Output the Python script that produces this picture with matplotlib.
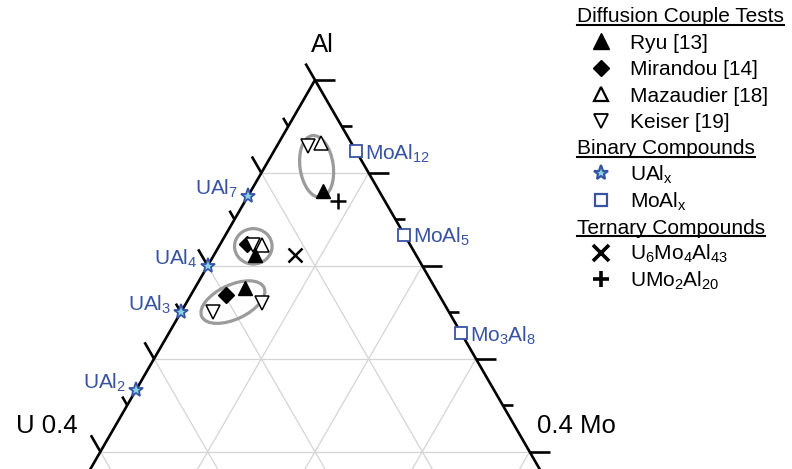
import numpy as np
import matplotlib
matplotlib.use("Agg")
import matplotlib.pyplot as plt
from matplotlib.patches import Ellipse

plt.rcParams["font.family"] = ["Liberation Sans", "DejaVu Sans"]
plt.rcParams["mathtext.default"] = "regular"

# ---- data: atomic fractions (U, Mo, Al) ----
ryu = [(0.052, 0.067, 0.881), (0.150, 0.038, 0.812), (0.177, 0.047, 0.776)]
mirandou = [(0.151, 0.025, 0.824), (0.198, 0.033, 0.769)]
mazaudier = [(0.028, 0.040, 0.932), (0.138, 0.040, 0.822)]
keiser = [(0.042, 0.029, 0.929), (0.147, 0.031, 0.822),
          (0.220, 0.030, 0.750), (0.169, 0.071, 0.760)]

# binary compounds, stoichiometry (U, Al) and (Mo, Al)
ual_stoich = [(1, 7), (1, 4), (1, 3), (1, 2)]
ual_labels = ["UAl$_7$", "UAl$_4$", "UAl$_3$", "UAl$_2$"]
moal_stoich = [(1, 12), (1, 5), (3, 8)]
moal_labels = ["MoAl$_{12}$", "MoAl$_5$", "Mo$_3$Al$_8$"]

# ternary compounds, stoichiometry (U, Mo, Al)
ternary_stoich = [(6, 4, 43), (1, 2, 20)]

# grouping ellipses: centre (U, Mo, Al), width, height, angle
groups_center = [(0.045, 0.048, 0.907), (0.147, 0.032, 0.821), (0.196, 0.043, 0.761)]
groups_size = [(0.031, 0.058, 8), (0.035, 0.033, 0), (0.064, 0.032, 25)]

SQ = np.sqrt(3) / 2


def to_xy(u, mo, al):
    s = u + mo + al
    mo, al = mo / s, al / s
    return mo + al / 2, al * SQ


def pts(comps):
    c = np.array(comps, dtype=float)
    return to_xy(c[:, 0], c[:, 1], c[:, 2])


W, H = 792, 469
S = 1073.0          # pixels per composition unit
APEX_PX = (315, 80)
fig = plt.figure(figsize=(W / 100, H / 100), dpi=100)
ax = fig.add_axes([0, 0, 1, 1])
ax.set_xlim(0.5 - APEX_PX[0] / S, 0.5 + (W - APEX_PX[0]) / S)
ax.set_ylim(SQ - (H - APEX_PX[1]) / S, SQ + APEX_PX[1] / S)
ax.axis("off")

AL_MIN = 0.5
grid_kw = dict(color="#d4d4d4", lw=0.9, zorder=1)
for v in [0.1, 0.2, 0.3, 0.4, 0.5]:
    al = 1 - v
    if al >= AL_MIN:
        x0, y0 = to_xy(v, 0, al)
        x1, y1 = to_xy(0, v, al)
        ax.plot([x0, x1], [y0, y1], **grid_kw)
    if 1 - v > AL_MIN:
        x0, y0 = to_xy(0, v, 1 - v)
        x1, y1 = to_xy(1 - v - AL_MIN, v, AL_MIN)
        ax.plot([x0, x1], [y0, y1], **grid_kw)
        x0, y0 = to_xy(v, 0, 1 - v)
        x1, y1 = to_xy(v, 1 - v - AL_MIN, AL_MIN)
        ax.plot([x0, x1], [y0, y1], **grid_kw)

# triangle sides
axis_kw = dict(color="black", lw=1.9, zorder=3, solid_capstyle="butt")
lx, ly = to_xy(1 - AL_MIN, 0, AL_MIN)
ax_, ay_ = to_xy(0, 0, 1)
rx, ry = to_xy(0, 1 - AL_MIN, AL_MIN)
ax.plot([lx, ax_, rx], [ly, ay_, ry], **axis_kw)

# ticks
for al in np.arange(1.0, AL_MIN - 1e-9, -0.05):
    major = abs(round(al * 10) - al * 10) < 1e-6
    L = (19 if major else 10) / S
    x0, y0 = to_xy(1 - al, 0, al)
    ax.plot([x0, x0 - 0.5 * L], [y0, y0 + SQ * L], **axis_kw)
for mo in np.arange(0.0, 1 - AL_MIN + 1e-9, 0.05):
    major = abs(round(mo * 10) - mo * 10) < 1e-6
    L = (20 if major else 10) / S
    x0, y0 = to_xy(0, mo, 1 - mo)
    ax.plot([x0, x0 + L], [y0, y0], **axis_kw)

# corner labels
ax.annotate("Al", to_xy(0, 0, 1), xytext=(7, 35), textcoords="offset pixels",
            ha="center", va="center", fontsize=18.5)
ax.annotate("U 0.4", to_xy(0.4, 0, 0.6), xytext=(-23, 26), textcoords="offset pixels",
            ha="right", va="center", fontsize=18.5)
ax.annotate("0.4 Mo", to_xy(0, 0.4, 0.6), xytext=(7, 26), textcoords="offset pixels",
            ha="left", va="center", fontsize=18.5)

# grouping ellipses
for c, (w, h, ang) in zip(groups_center, groups_size):
    cx, cy = to_xy(*c)
    ax.add_patch(Ellipse((cx, cy), w, h, angle=ang, fill=False,
                         ec="#9b9b9b", lw=2.3, zorder=4))

BLUE = "#3953a4"
STAR_FACE = "#86d4e6"
mk = dict(linestyle="none", zorder=6)

# binary compounds
ual = [(u, 0, a) for u, a in ual_stoich]
x, y = pts(ual)
ax.plot(x, y, marker="*", ms=11, mfc=STAR_FACE, mec=BLUE, mew=1.3, **mk)
for xi, yi, lab in zip(x, y, ual_labels):
    ax.annotate(lab, (xi, yi), xytext=(-10, -4), textcoords="offset pixels",
                ha="right", va="bottom", fontsize=15, color=BLUE)
moal = [(0, m, a) for m, a in moal_stoich]
x, y = pts(moal)
ax.plot(x, y, marker="s", ms=9, mfc="white", mec=BLUE, mew=1.3, **mk)
for xi, yi, lab in zip(x, y, moal_labels):
    ax.annotate(lab, (xi, yi), xytext=(9, -8), textcoords="offset pixels",
                ha="left", va="baseline", fontsize=15, color=BLUE)

# ternary compounds
x, y = pts(ternary_stoich)
ax.plot(x[:1], y[:1], marker="x", ms=10, mec="black", mew=1.8, **mk)
ax.plot(x[1:], y[1:], marker="+", ms=11, mec="black", mew=1.8, **mk)

# diffusion couple results
x, y = pts(mirandou)
ax.plot(x, y, marker="D", ms=8, mfc="black", mec="black", **mk)
x, y = pts(keiser)
ax.plot(x, y, marker="v", ms=10, mfc="white", mec="black", mew=1.1, **mk)
x, y = pts(mazaudier)
ax.plot(x, y, marker="^", ms=10, mfc="white", mec="black", mew=1.1, **mk)
x, y = pts(ryu)
ax.plot(x, y, marker="^", ms=10, mfc="black", mec="black", **mk)

# ---- legend ----
rows = [
    ("header", "Diffusion Couple Tests", None),
    ("entry", "Ryu [13]", dict(marker="^", ms=11, mfc="black", mec="black")),
    ("entry", "Mirandou [14]", dict(marker="D", ms=8, mfc="black", mec="black")),
    ("entry", "Mazaudier [18]", dict(marker="^", ms=10, mfc="white", mec="black", mew=1.6)),
    ("entry", "Keiser [19]", dict(marker="v", ms=10, mfc="white", mec="black", mew=1.3)),
    ("header", "Binary Compounds", None),
    ("entry", "UAl$_x$", dict(marker="*", ms=11, mfc=STAR_FACE, mec=BLUE, mew=1.6)),
    ("entry", "MoAl$_x$", dict(marker="s", ms=9, mfc="white", mec=BLUE, mew=1.6)),
    ("header", "Ternary Compounds", None),
    ("entry", "U$_6$Mo$_4$Al$_{43}$", dict(marker="x", ms=11, mec="black", mew=2.6)),
    ("entry", "UMo$_2$Al$_{20}$", dict(marker="+", ms=11, mec="black", mew=2.6)),
]
ROW0, DROW = 15, 26.4
HEAD_X, MARK_X, TEXT_X = 577, 601, 630


def fx(px):
    return px / W


def fy(py):
    return 1 - py / H


headers = []
for i, (kind, label, style) in enumerate(rows):
    yc = ROW0 + i * DROW
    base = yc + 7.5
    if kind == "header":
        t = fig.text(fx(HEAD_X), fy(base), label, fontsize=15, ha="left", va="baseline")
        headers.append((t, base))
    else:
        fig.text(fx(TEXT_X), fy(base), label, fontsize=15, ha="left", va="baseline")
        fig.lines.append(plt.Line2D([fx(MARK_X)], [fy(yc)], transform=fig.transFigure,
                                    linestyle="none", **style))

fig.canvas.draw()
for t, base in headers:
    bb = t.get_window_extent()
    uy = fy(base + 2.5)
    fig.lines.append(plt.Line2D([bb.x0 / W, bb.x1 / W], [uy, uy], transform=fig.transFigure,
                                color="black", lw=1.5))

fig.savefig("out.png", dpi=100)
